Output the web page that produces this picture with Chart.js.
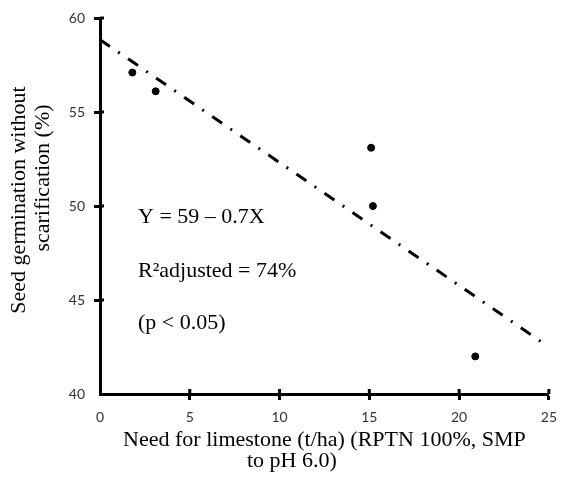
<!DOCTYPE html>
<html>
<head>
<meta charset="utf-8">
<script src="https://cdn.jsdelivr.net/npm/chart.js@4/dist/chart.umd.min.js"></script>
<style>
  html, body { margin: 0; padding: 0; background: #fff; }
</style>
</head>
<body>
<canvas id="myChart" width="566" height="478"></canvas>
<script>
// data
const limeNeed = [1.8, 3.1, 15.1, 15.2, 20.9];
const germination = [57.1, 56.1, 53.1, 50.0, 42.0];
const fitX = [0, 24.7];
const fitY = [58.85, 42.7];
const xTicks = [0, 5, 10, 15, 20, 25];
const yTicks = [40, 45, 50, 55, 60];
const notes = ["Y = 59 \u2013 0.7X", "R\u00B2adjusted = 74%", "(p < 0.05)"];
const yTitle = ["Seed germination without", "scarification (%)"];
const xTitle = ["Need for limestone (t/ha) (RPTN 100%, SMP", "to pH 6.0)"];

let points = [];
for (let i = 0; i < limeNeed.length; i++) {
  points.push({ x: limeNeed[i], y: germination[i] });
}
let fitLine = [];
for (let i = 0; i < fitX.length; i++) {
  fitLine.push({ x: fitX[i], y: fitY[i] });
}

const serif = '"Liberation Serif", "Times New Roman", serif';

// inner half of the crossing tick marks, notes and axis titles
const extras = {
  id: "extras",
  afterDraw(chart) {
    const c = chart.ctx;
    const a = chart.chartArea;
    const xs = chart.scales.x;
    const ys = chart.scales.y;
    c.save();
    c.strokeStyle = "#000";
    c.lineWidth = 3;
    xTicks.forEach(v => {
      if (v === xTicks[0]) return;
      const px = xs.getPixelForValue(v);
      c.beginPath();
      c.moveTo(px, a.bottom);
      c.lineTo(px, a.bottom - 5);
      c.stroke();
    });
    yTicks.forEach(v => {
      if (v === yTicks[0]) return;
      const py = ys.getPixelForValue(v);
      c.beginPath();
      c.moveTo(a.left, py);
      c.lineTo(a.left + 4, py);
      c.stroke();
    });

    c.fillStyle = "#000";
    c.font = "22px " + serif;
    c.textAlign = "left";
    c.textBaseline = "middle";
    const noteY = [217, 271, 323];
    notes.forEach((t, i) => c.fillText(t, a.left + 38, noteY[i]));

    c.font = "22px " + serif;
    c.textAlign = "center";
    c.fillText(xTitle[0], (a.left + a.right) / 2, 440);
    c.textAlign = "left";
    c.fillText(xTitle[1], 247, 461);

    c.save();
    c.translate(19, 200);
    c.rotate(-Math.PI / 2);
    c.textAlign = "center";
    c.fillText(yTitle[0], 0, 0);
    c.restore();
    c.save();
    c.translate(43, 178);
    c.rotate(-Math.PI / 2);
    c.textAlign = "center";
    c.fillText(yTitle[1], 0, 0);
    c.restore();
    c.restore();
  }
};

const ctx = document.getElementById("myChart").getContext("2d");
const chart = new Chart(ctx, {
  type: "scatter",
  data: {
    datasets: [
      {
        data: points,
        backgroundColor: "#000",
        borderColor: "#000",
        pointRadius: 3.5,
        pointHoverRadius: 3.5
      },
      {
        type: "line",
        data: fitLine,
        borderColor: "#000",
        borderWidth: 3,
        borderDash: [12, 10, 2, 10],
        pointRadius: 0,
        fill: false
      }
    ]
  },
  options: {
    responsive: false,
    animation: false,
    devicePixelRatio: 1,
    layout: { padding: { top: 18, right: 13, left: 0, bottom: 0 } },
    plugins: { legend: { display: false }, tooltip: { enabled: false } },
    scales: {
      x: {
        type: "linear",
        min: 0,
        max: 25,
        afterBuildTicks: s => { s.ticks = xTicks.map(v => ({ value: v })); },
        afterFit: s => { s.height = 84; },
        border: { display: true, color: "#000", width: 3 },
        grid: {
          drawOnChartArea: false,
          tickLength: 6,
          tickWidth: 3,
          tickColor: c => (c.tick && c.tick.value === xTicks[0] ? "rgba(0,0,0,0)" : "#000")
        },
        ticks: {
          padding: 9,
          color: "#333",
          font: { family: "Lato, 'Open Sans', sans-serif", size: 14 },
          maxRotation: 0
        }
      },
      y: {
        type: "linear",
        min: 40,
        max: 60,
        afterBuildTicks: s => { s.ticks = yTicks.map(v => ({ value: v })); },
        afterFit: s => { s.width = 100; },
        border: { display: true, color: "#000", width: 3 },
        grid: {
          drawOnChartArea: false,
          tickLength: 6,
          tickWidth: 3,
          tickColor: c => (c.tick && c.tick.value === yTicks[0] ? "rgba(0,0,0,0)" : "#000")
        },
        ticks: {
          padding: 9,
          color: "#333",
          font: { family: "Lato, 'Open Sans', sans-serif", size: 14 }
        }
      }
    }
  },
  plugins: [extras]
});
</script>
</body>
</html>
